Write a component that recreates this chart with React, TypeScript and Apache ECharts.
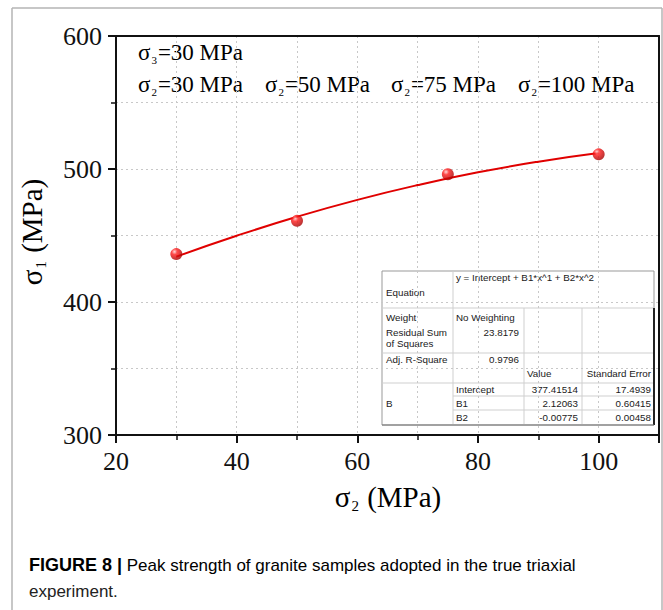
import { useEffect, useRef } from "react";
import * as echarts from "echarts";

// ---- data ----
const sigma2Values = [30, 50, 75, 100]; // MPa (x)
const sigma1Values = [436, 461, 496, 511]; // MPa (y)
const fitXValues = [30, 40, 50, 60, 70, 80, 90, 100];
const fitYValues = [434.1, 449.8, 464.1, 476.8, 487.9, 497.5, 505.5, 512.0];
const xTickValues = [20, 40, 60, 80, 100];
const yTickValues = [300, 400, 500, 600];
const sigma2Labels = ["30", "50", "75", "100"];
const sigma3Label = "30";

// table content
const equationText = "y = Intercept + B1*x^1 + B2*x^2";
const weightText = "No Weighting";
const residualText = "23.8179";
const adjR2Text = "0.9796";
const paramNames = ["Intercept", "B1", "B2"];
const paramValues = ["377.41514", "2.12063", "-0.00775"];
const paramErrors = ["17.4939", "0.60415", "0.00458"];

const SERIF = "Liberation Serif";
const SANS = "Liberation Sans";

function buildTable() {
  const c0 = 382, c1 = 453, c2 = 524, c3 = 582, c4 = 654;
  const top = 271, bottom = 425;
  const rY = [308, 353, 383, 396, 410];
  const children: any[] = [];
  children.push({ type: "rect", shape: { x: c0, y: top, width: c4 - c0, height: bottom - top }, style: { fill: "#fff", stroke: "#999", lineWidth: 1 } });
  const ln = (x1: number, y1: number, x2: number, y2: number, stroke = "#cfcfcf", w = 1) =>
    children.push({ type: "line", shape: { x1, y1, x2, y2 }, style: { stroke, lineWidth: w } });
  ln(c0, rY[0], c4, rY[0]);
  ln(c0, rY[1], c4, rY[1]);
  ln(c0, rY[2], c4, rY[2]);
  ln(c1, rY[3], c4, rY[3]);
  ln(c1, rY[4], c4, rY[4]);
  ln(c1, top, c1, bottom);
  ln(c2, rY[0], c2, bottom);
  ln(c3, rY[0], c3, bottom);
  ln(c4, rY[0], c4, bottom, "#222", 2);
  ln(c0, bottom, c4, bottom, "#777", 1);
  const tx = (text: string, x: number, y: number, align = "left") =>
    children.push({ type: "text", x, y, style: { text, fill: "#1a1a1a", fontFamily: SANS, fontSize: 9.8, align, verticalAlign: "middle" } });
  tx(equationText, 456, 277);
  tx("Equation", 386, 292);
  tx("Weight", 386, 317);
  tx(weightText, 456, 317);
  tx("Residual Sum", 386, 332);
  tx("of Squares", 386, 343);
  tx(residualText, 519, 332, "right");
  tx("Adj. R-Square", 386, 359);
  tx(adjR2Text, 519, 359, "right");
  tx("Value", 527, 373);
  tx("Standard Error", 651, 373, "right");
  tx("B", 386, 403);
  const rowsY = [389, 403, 417];
  paramNames.forEach((n, i) => {
    tx(n, 456, rowsY[i]);
    tx(paramValues[i], 578, rowsY[i], "right");
    tx(paramErrors[i], 651, rowsY[i], "right");
  });
  return { type: "group", children };
}

const richSigma = {
  s: { fontFamily: SERIF, fontSize: 23, color: "#111" },
  sub: { fontFamily: SERIF, fontSize: 11, color: "#111", padding: [16, 1, 0, 1] },
};

const tickLabel = {
  fontFamily: SERIF,
  fontSize: 26,
  color: "#111",
};

export default function App() {
  const ref = useRef<HTMLDivElement>(null);
  useEffect(() => {
    if (!ref.current) return;
    const chart = echarts.init(ref.current, null, { renderer: "svg" });
    const sphere = new echarts.graphic.RadialGradient(0.35, 0.3, 0.7, [
      { offset: 0, color: "#ffd0d0" },
      { offset: 0.35, color: "#ff1a1a" },
      { offset: 1, color: "#a80000" },
    ]);
    const sigma2X = [138, 265, 391, 518];
    const option: any = {
      animation: false,
      backgroundColor: "#fff",
      textStyle: { fontFamily: SERIF },
      grid: { left: 116, top: 36, right: 4, bottom: 175, containLabel: false },
      xAxis: [
        {
          type: "value",
          min: xTickValues[0],
          max: 110,
          interval: xTickValues[1] - xTickValues[0],
          axisLine: { show: true, onZero: false, lineStyle: { color: "#111", width: 2 } },
          axisTick: { show: true, length: 8, lineStyle: { color: "#111", width: 2 } },
          minorTick: { show: true, splitNumber: 2, length: 5, lineStyle: { color: "#111", width: 1.5 } },
          axisLabel: { ...tickLabel, showMaxLabel: false, margin: 13 },
          splitLine: { show: true, lineStyle: { color: "#c8c8c8", type: [2, 3], width: 1 } },
          minorSplitLine: { show: true, lineStyle: { color: "#c8c8c8", type: [2, 3], width: 1 } },
        },
        {
          type: "value",
          position: "top",
          min: xTickValues[0],
          max: 110,
          axisLine: { show: true, onZero: false, lineStyle: { color: "#111", width: 2 } },
          axisTick: { show: false },
          axisLabel: { show: false },
          splitLine: { show: false },
        },
      ],
      yAxis: [
        {
          type: "value",
          min: yTickValues[0],
          max: yTickValues[yTickValues.length - 1],
          interval: yTickValues[1] - yTickValues[0],
          axisLine: { show: true, onZero: false, lineStyle: { color: "#111", width: 2 } },
          axisTick: { show: true, length: 8, lineStyle: { color: "#111", width: 2 } },
          minorTick: { show: true, splitNumber: 2, length: 5, lineStyle: { color: "#111", width: 1.5 } },
          axisLabel: { ...tickLabel, margin: 14 },
          splitLine: { show: true, lineStyle: { color: "#c8c8c8", type: [2, 3], width: 1 } },
          minorSplitLine: { show: true, lineStyle: { color: "#c8c8c8", type: [2, 3], width: 1 } },
        },
        {
          type: "value",
          position: "right",
          min: yTickValues[0],
          max: yTickValues[yTickValues.length - 1],
          axisLine: { show: true, onZero: false, lineStyle: { color: "#111", width: 2 } },
          axisTick: { show: false },
          axisLabel: { show: false },
          splitLine: { show: false },
        },
      ],
      series: [
        {
          type: "line",
          smooth: true,
          showSymbol: false,
          data: fitXValues.map((x, i) => [x, fitYValues[i]]),
          lineStyle: { color: "#e00000", width: 2 },
          z: 3,
        },
        {
          type: "scatter",
          data: sigma2Values.map((x, i) => [x, sigma1Values[i]]),
          symbolSize: 12,
          itemStyle: { color: sphere },
          z: 4,
        },
      ],
      graphic: [
        // figure frame
        { type: "line", shape: { x1: 12, y1: 8, x2: 662, y2: 8 }, style: { stroke: "#b5b5b5", lineWidth: 1.5 } },
        { type: "line", shape: { x1: 12, y1: 8, x2: 12, y2: 610 }, style: { stroke: "#b5b5b5", lineWidth: 1.5 } },
        { type: "line", shape: { x1: 662, y1: 8, x2: 662, y2: 610 }, style: { stroke: "#b5b5b5", lineWidth: 1.5 } },
        {
          type: "text",
          x: 138,
          y: 52,
          style: { text: `{s|σ}{sub|3}{s|=${sigma3Label} MPa}`, rich: richSigma, verticalAlign: "middle", align: "left" },
        },
        ...sigma2Labels.map((v, i) => ({
          type: "text",
          x: sigma2X[i],
          y: 84,
          style: { text: `{s|σ}{sub|2}{s|=${v} MPa}`, rich: richSigma, verticalAlign: "middle", align: "left" },
        })),
        {
          type: "text",
          x: 388,
          y: 497,
          style: {
            text: "{s|σ}{sub|2}{s| (MPa)}",
            rich: {
              s: { fontFamily: SERIF, fontSize: 29, color: "#111" },
              sub: { fontFamily: SERIF, fontSize: 15, color: "#111", padding: [18, 1, 0, 1] },
            },
            align: "center",
            verticalAlign: "middle",
          },
        },
        {
          type: "text",
          x: 32,
          y: 232,
          rotation: Math.PI / 2,
          style: {
            text: "{s|σ}{sub|1}{s| (MPa)}",
            rich: {
              s: { fontFamily: SERIF, fontSize: 29, color: "#111" },
              sub: { fontFamily: SERIF, fontSize: 15, color: "#111", padding: [18, 1, 0, 1] },
            },
            align: "center",
            verticalAlign: "middle",
          },
        },
        buildTable(),
        {
          type: "text",
          x: 29,
          y: 565,
          style: {
            text: "{b|FIGURE 8 |}{n| Peak strength of granite samples adopted in the true triaxial}",
            rich: {
              b: { fontFamily: SANS, fontSize: 18, fontWeight: "bold", color: "#111" },
              n: { fontFamily: SANS, fontSize: 17, color: "#222" },
            },
            verticalAlign: "middle",
            align: "left",
          },
        },
        {
          type: "text",
          x: 29,
          y: 591,
          style: { text: "experiment.", fontFamily: SANS, fontSize: 17, fill: "#222", verticalAlign: "middle", align: "left" },
        },
      ],
    };
    chart.setOption(option);
    return () => chart.dispose();
  }, []);
  return <div ref={ref} style={{ position: "absolute", left: 0, top: 0, width: 663, height: 610 }} />;
}
